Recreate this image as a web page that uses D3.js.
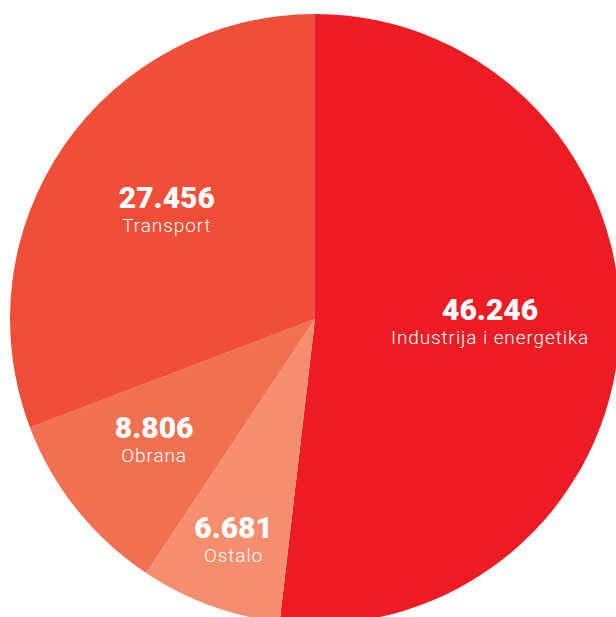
<!DOCTYPE html>
<html><head><meta charset="utf-8">
<script src="https://cdn.jsdelivr.net/npm/d3@7/dist/d3.min.js"></script>
<style>html,body{margin:0;padding:0;background:#fff;overflow:hidden}</style>
</head><body>
<svg id="c" width="616" height="617"></svg>
<script>
const categories = ["Industrija i energetika", "Ostalo", "Obrana", "Transport"];
const values = [46.246, 6.681, 8.806, 27.456];
const valueLabels = ["46.246", "6.681", "8.806", "27.456"];
const colors = ["#ED1C24", "#F58E6E", "#F27052", "#EF4E37"];

const svg = d3.select("#c");
const cx = 315, cy = 319, r = 305;
const g = svg.append("g").attr("transform", `translate(${cx},${cy})`);

const data = categories.map((c, i) => ({cat: c, value: values[i], label: valueLabels[i], color: colors[i]}));
const pie = d3.pie().value(d => d.value).sort(null);
const arcs = pie(data);
const arc = d3.arc().innerRadius(0).outerRadius(r);

g.selectAll("path").data(arcs).enter().append("path")
  .attr("d", arc).attr("fill", d => d.data.color);

const labelFactor = [0.575, 0.775, 0.675, 0.59];
const lg = g.selectAll("g.lbl").data(arcs).enter().append("g")
  .attr("transform", (d, i) => {
    const a = (d.startAngle + d.endAngle) / 2;
    const rr = r * labelFactor[i];
    const dy = i === 1 ? 0 : -6;
    return `translate(${Math.sin(a) * rr},${-Math.cos(a) * rr + dy})`;
  });
lg.append("text").attr("text-anchor", "middle").attr("y", -3)
  .attr("fill", "#fff").attr("font-family", "Roboto, sans-serif")
  .attr("font-weight", 900).attr("font-size", 30)
  .text(d => d.data.label);
lg.append("text").attr("text-anchor", "middle").attr("y", 21)
  .attr("fill", "#fff").attr("font-family", "Roboto, sans-serif")
  .attr("font-weight", 300).attr("font-size", 19).attr("letter-spacing", 0.9)
  .text(d => d.data.cat);
</script>
</body></html>
